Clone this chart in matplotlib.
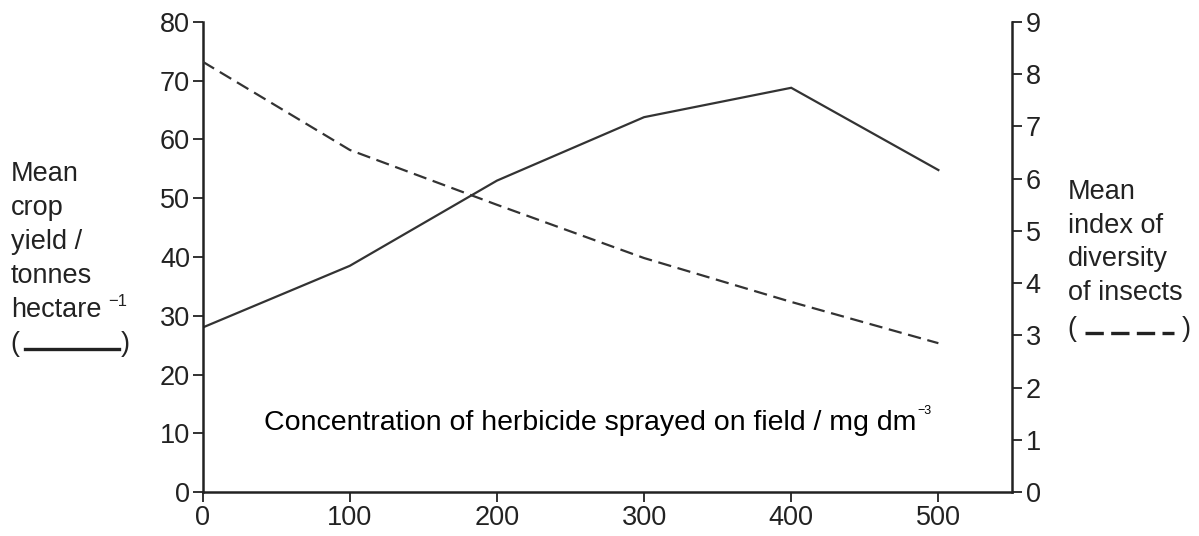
import matplotlib
matplotlib.use("Agg")
import matplotlib.pyplot as plt
from matplotlib.lines import Line2D

plt.rcParams['font.family'] = ['Liberation Sans', 'DejaVu Sans']

concentration = [0, 100, 200, 300, 400, 500]
crop_yield = [28, 38.5, 53, 63.8, 68.8, 54.8]
insect_diversity = [8.24, 6.55, 5.5, 4.48, 3.64, 2.85]
x_ticks = [0, 100, 200, 300, 400, 500]
left_ticks = [0, 10, 20, 30, 40, 50, 60, 70, 80]
right_ticks = [0, 1, 2, 3, 4, 5, 6, 7, 8, 9]

W, H = 1199, 536
fig = plt.figure(figsize=(W / 100, H / 100), dpi=100)
ax = fig.add_axes([0.169, 0.082, 0.675, 0.877])
ax2 = ax.twinx()

ink = '#222222'
FS = 19.5
ax.plot(concentration, crop_yield, color='#333333', lw=1.6, solid_joinstyle='miter')
ax2.plot(concentration, insect_diversity, color='#333333', lw=1.6, ls=(0, (6, 3)))

ax.set_xlim(0, 550)
ax.set_ylim(0, 80)
ax2.set_ylim(0, 9)
ax.set_xticks(x_ticks)
ax.set_yticks(left_ticks)
ax2.set_yticks(right_ticks)

for a in (ax, ax2):
    a.spines['top'].set_visible(False)
    for s in a.spines.values():
        s.set_linewidth(1.8)
        s.set_color(ink)
ax.spines['right'].set_visible(False)
ax2.spines['left'].set_visible(False)
ax2.spines['bottom'].set_visible(False)

ax.tick_params(axis='both', direction='out', length=7, width=1.3, labelsize=FS, colors=ink, pad=2)
ax2.tick_params(axis='y', direction='out', length=7, width=1.3, labelsize=FS, colors=ink, pad=3)

# x-axis title placed inside the plot area
t = ax.text(0.0755, 0.147, 'Concentration of herbicide sprayed on field / mg dm',
            transform=ax.transAxes, ha='left', va='center', fontsize=20.5, color='black')
ax.annotate('\u22123', xy=(1, 0.72), xycoords=t, xytext=(1, 0), textcoords='offset points',
            ha='left', va='bottom', fontsize=9, color='black')

def fy(py):
    return 1 - py / H

def fx(px):
    return px / W

left_lines = ['Mean', 'crop', 'yield /', 'tonnes', 'hectare']
left_base = [181, 215, 249, 283, 317]
for s, b in zip(left_lines, left_base):
    tt = fig.text(fx(11), fy(b), s, ha='left', va='baseline', fontsize=FS, color=ink)
fig.text(fx(108), fy(306), '\u22121', ha='left', va='baseline', fontsize=12, color=ink)
fig.text(fx(10), fy(351), '(', ha='left', va='baseline', fontsize=FS, color=ink)
fig.text(fx(121), fy(351), ')', ha='left', va='baseline', fontsize=FS, color=ink)
fig.add_artist(Line2D([fx(25), fx(119)], [fy(349), fy(349)], color=ink, lw=2.4,
                      transform=fig.transFigure))

right_lines = ['Mean', 'index of', 'diversity', 'of insects']
right_base = [199, 233, 266, 300]
for s, b in zip(right_lines, right_base):
    fig.text(fx(1068), fy(b), s, ha='left', va='baseline', fontsize=FS, color=ink)
fig.text(fx(1067), fy(336), '(', ha='left', va='baseline', fontsize=FS, color=ink)
fig.text(fx(1182), fy(336), ')', ha='left', va='baseline', fontsize=FS, color=ink)
fig.add_artist(Line2D([fx(1085), fx(1174)], [fy(333), fy(333)], color=ink, lw=2.4,
                      ls=(0, (5.5, 2.2)), transform=fig.transFigure))

fig.savefig('out.png', dpi=100, facecolor='white')
